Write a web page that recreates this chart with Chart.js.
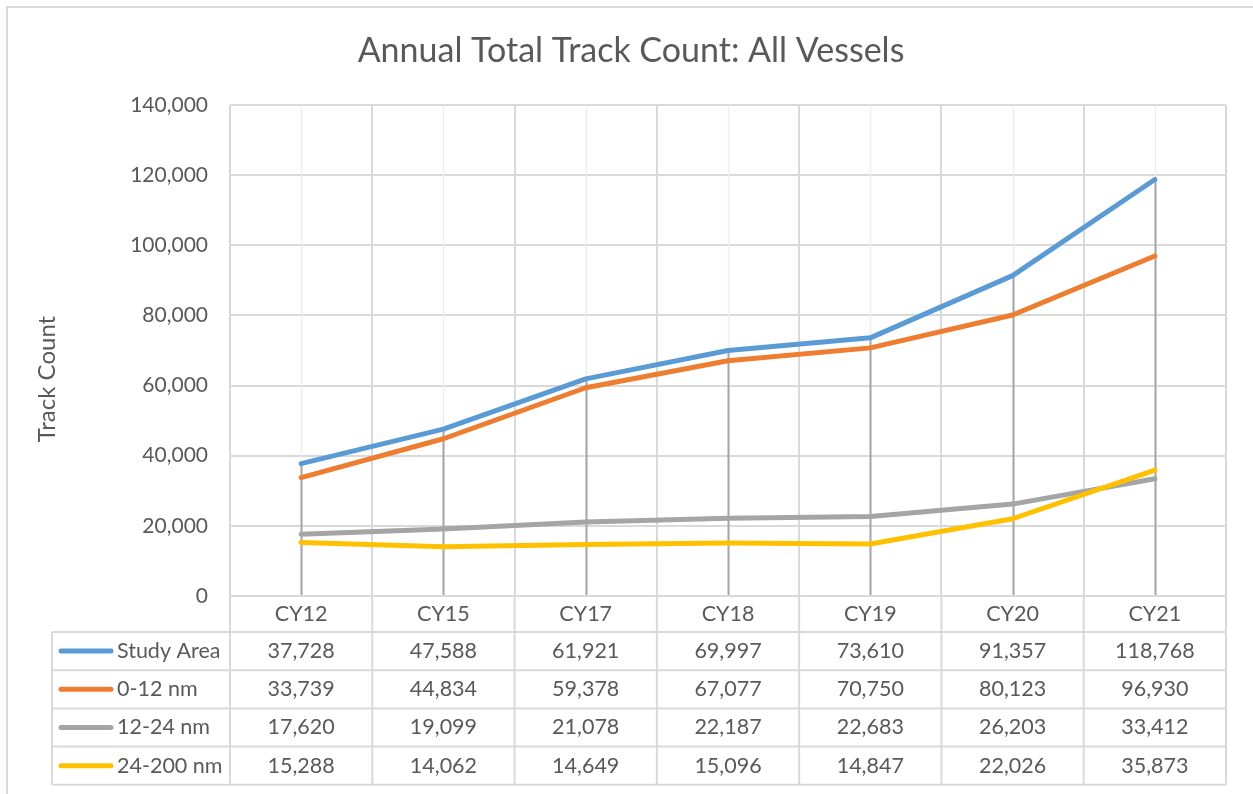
<!DOCTYPE html>
<html lang="en">
<head>
  <meta charset="UTF-8">
  <title>Annual Total Track Count</title>
  <style>
    html, body { margin: 0; padding: 0; background: #fff; }
    #wrap { width: 1253px; height: 794px; position: relative; }
  </style>
</head>
<body>
<div id="wrap">
  <canvas id="myChart" width="1253" height="794"></canvas>
</div>

<script src="https://cdn.jsdelivr.net/npm/chart.js"></script>
<script>
  var years = ['CY12', 'CY15', 'CY17', 'CY18', 'CY19', 'CY20', 'CY21'];
  var studyArea = [37728, 47588, 61921, 69997, 73610, 91357, 118768];
  var nm0to12 = [33739, 44834, 59378, 67077, 70750, 80123, 96930];
  var nm12to24 = [17620, 19099, 21078, 22187, 22683, 26203, 33412];
  var nm24to200 = [15288, 14062, 14649, 15096, 14847, 22026, 35873];
  var seriesNames = ['Study Area', '0-12 nm', '12-24 nm', '24-200 nm'];
  var colors = ['#5b9bd5', '#ed7d31', '#a5a5a5', '#ffc000'];
  var yTicks = [0, 20000, 40000, 60000, 80000, 100000, 120000, 140000];

  var FONT = 'Lato, "Open Sans", sans-serif';
  var textColor = '#595959';
  var gridColor = '#d9d9d9';
  var seriesData = [studyArea, nm0to12, nm12to24, nm24to200];

  function fmt(v) { return v.toLocaleString('en-US'); }

  // faint center lines + drop lines, behind the series
  var dropLines = {
    id: 'dropLines',
    beforeDatasetsDraw: function(chart) {
      var c = chart.ctx, x = chart.scales.x, y = chart.scales.y, a = chart.chartArea;
      c.save();
      for (var i = 0; i < years.length; i++) {
        var px = Math.round(x.getPixelForValue(i)) + 0.5;
        c.strokeStyle = '#eeeeee';
        c.lineWidth = 1.5;
        c.beginPath(); c.moveTo(px, a.top); c.lineTo(px, a.bottom); c.stroke();
        var top = Math.max(studyArea[i], nm0to12[i], nm12to24[i], nm24to200[i]);
        c.strokeStyle = '#a5a5a5';
        c.lineWidth = 2;
        c.beginPath(); c.moveTo(px, y.getPixelForValue(top)); c.lineTo(px, a.bottom); c.stroke();
      }
      c.restore();
    }
  };

  // title, data table under the plot, axis title, outer border
  var dataTable = {
    id: 'dataTable',
    afterDraw: function(chart) {
      var c = chart.ctx, x = chart.scales.x, a = chart.chartArea;
      var band = (a.right - a.left) / years.length;
      var headTop = a.bottom, headH = 36, rowH = 38.2, tableLeft = 52;
      var rowsTop = headTop + headH;
      var bottom = rowsTop + rowH * seriesNames.length;
      c.save();
      c.strokeStyle = gridColor;
      c.lineWidth = 2;
      c.beginPath();
      c.moveTo(a.left, headTop); c.lineTo(a.right, headTop);
      for (var r = 0; r <= seriesNames.length; r++) {
        var yy = rowsTop + r * rowH;
        c.moveTo(tableLeft, yy); c.lineTo(a.right, yy);
      }
      for (var k = 0; k <= years.length; k++) {
        var xx = a.left + k * band;
        c.moveTo(xx, headTop); c.lineTo(xx, bottom);
      }
      c.moveTo(tableLeft, rowsTop); c.lineTo(tableLeft, bottom);
      c.stroke();

      c.fillStyle = textColor;
      c.textBaseline = 'middle';
      // chart title
      c.textAlign = 'center';
      c.font = '34px ' + FONT;
      c.fillText('Annual Total Track Count: All Vessels', 631, 51);

      c.font = '21.5px ' + FONT;
      for (var i = 0; i < years.length; i++) {
        var cx = x.getPixelForValue(i);
        c.fillText(years[i], cx, headTop + headH / 2);
        for (var s = 0; s < seriesNames.length; s++) {
          c.fillText(fmt(seriesData[s][i]), cx, rowsTop + s * rowH + rowH / 2);
        }
      }
      // legend keys
      c.textAlign = 'left';
      c.lineCap = 'round';
      for (var s2 = 0; s2 < seriesNames.length; s2++) {
        var cy = rowsTop + s2 * rowH + rowH / 2;
        c.strokeStyle = colors[s2];
        c.lineWidth = 5;
        c.beginPath(); c.moveTo(61, cy); c.lineTo(111, cy); c.stroke();
        c.fillText(seriesNames[s2], 117, cy);
      }
      // y axis title
      c.save();
      c.translate(47, 379);
      c.rotate(-Math.PI / 2);
      c.textAlign = 'center';
      c.font = '24px ' + FONT;
      c.fillText('Track Count', 0, 0);
      c.restore();
      // outer chart border (top and left visible)
      c.strokeStyle = gridColor;
      c.lineWidth = 2;
      c.lineCap = 'butt';
      c.beginPath();
      c.moveTo(7, 800); c.lineTo(7, 7); c.lineTo(1260, 7);
      c.stroke();
      c.restore();
    }
  };

  var ctx = document.getElementById('myChart');
  var datasets = [];
  for (var d = 0; d < seriesNames.length; d++) {
    datasets.push({
      label: seriesNames[d],
      data: seriesData[d],
      borderColor: colors[d],
      backgroundColor: colors[d],
      borderWidth: 5,
      borderCapStyle: 'round',
      borderJoinStyle: 'round',
      pointRadius: 0,
      tension: 0,
      order: 3 - d
    });
  }

  var chart = new Chart(ctx, {
    type: 'line',
    data: { labels: years, datasets: datasets },
    options: {
      responsive: false,
      animation: false,
      events: [],
      layout: { padding: { left: 0, right: 27, top: 105, bottom: 198 } },
      plugins: {
        legend: { display: false },
        tooltip: { enabled: false },
        title: { display: false }
      },
      scales: {
        x: {
          offset: true,
          grid: { offset: true, color: gridColor, lineWidth: 2, drawTicks: false },
          border: { display: false },
          ticks: { display: false }
        },
        y: {
          min: 0,
          max: 140000,
          afterFit: function(s) { s.width = 230; },
          afterBuildTicks: function(s) { s.ticks = yTicks.map(function(v) { return { value: v }; }); },
          grid: { color: gridColor, lineWidth: 2, drawTicks: false },
          border: { display: false },
          ticks: {
            color: textColor,
            padding: 22,
            font: { family: FONT, size: 21 },
            callback: function(v) { return fmt(v); }
          }
        }
      }
    },
    plugins: [dropLines, dataTable]
  });
</script>
</body>
</html>
